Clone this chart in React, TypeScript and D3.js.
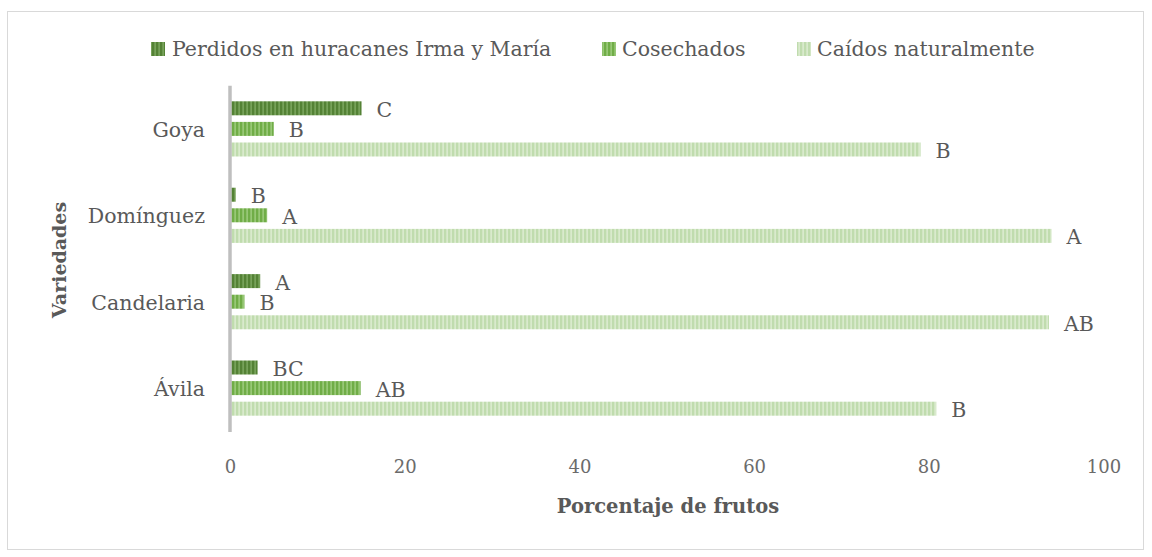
import React from "react";
import * as d3 from "d3";

const categories = ["Goya", "Domínguez", "Candelaria", "Ávila"];
const seriesNames = ["Perdidos en huracanes Irma y María", "Cosechados", "Caídos naturalmente"];
const perdidos = [15.0, 0.6, 3.4, 3.1];
const cosechados = [4.95, 4.2, 1.6, 14.9];
const caidos = [79.0, 94.0, 93.7, 80.8];
const perdidosLabels = ["C", "B", "A", "BC"];
const cosechadosLabels = ["B", "A", "B", "AB"];
const caidosLabels = ["B", "A", "AB", "B"];
const xTicks = [0, 20, 40, 60, 80, 100];

const W = 1152;
const H = 557;
const FONT = "'DejaVu Serif', serif";
const TXT = "#595959";

const seriesValues = [perdidos, cosechados, caidos];
const seriesLabels = [perdidosLabels, cosechadosLabels, caidosLabels];
const patterns = [
  { id: "p0", base: "#548235", stripe: "#86b06a" },
  { id: "p1", base: "#70ad47", stripe: "#a9d48c" },
  { id: "p2", base: "#c0dcae", stripe: "#e4f1db" },
];

export default function App() {
  const x = d3.scaleLinear().domain([0, 100]).range([230.5, 1104]);
  const y = d3.scaleBand<string>().domain(categories).range([85.7, 431.3]).paddingInner(0.285).paddingOuter(0.1425);
  const sub = d3.scaleBand<number>().domain([0, 1, 2]).range([0, y.bandwidth()]).paddingInner(0.32).paddingOuter(0.16);

  const legendItems = [
    { sx: 151, tx: 172 },
    { sx: 602, tx: 622 },
    { sx: 797, tx: 817 },
  ];

  return (
    <svg width={W} height={H} style={{ display: "block", position: "absolute", left: 0, top: 0 }} fontFamily={FONT}>
      <defs>
        {patterns.map((p) => (
          <pattern key={p.id} id={p.id} width={4} height={4} patternUnits="userSpaceOnUse">
            <rect width={4} height={4} fill={p.base} />
            <rect x={2.5} width={1.2} height={4} fill={p.stripe} />
          </pattern>
        ))}
      </defs>
      <rect x={0} y={0} width={W} height={H} fill="#ffffff" />
      <rect x={7.5} y={11.5} width={1136} height={538} fill="#ffffff" stroke="#d9d9d9" strokeWidth={1} />

      {/* legend */}
      {seriesNames.map((n, i) => (
        <g key={n}>
          <rect x={legendItems[i].sx} y={42} width={14} height={14} fill={`url(#${patterns[i].id})`} />
          <text x={legendItems[i].tx} y={56} fontSize={20.5} fill={TXT}>{n}</text>
        </g>
      ))}

      {/* bars */}
      {categories.map((c, ci) => (
        <g key={c} transform={`translate(0,${y(c)})`}>
          {seriesValues.map((vals, si) => {
            const by = sub(si) as number;
            const bh = sub.bandwidth();
            const v = vals[ci];
            return (
              <g key={si}>
                <rect x={x(0)} y={by} width={x(v) - x(0)} height={bh} fill={`url(#${patterns[si].id})`} />
                <text x={x(v) + 15} y={by + bh / 2 + 8.5} fontSize={20.5} fill={TXT}>
                  {seriesLabels[si][ci]}
                </text>
              </g>
            );
          })}
          <text x={205} y={y.bandwidth() / 2 + 8} fontSize={20.5} fill={TXT} textAnchor="end">{c}</text>
        </g>
      ))}

      {/* axis line */}
      <line x1={230} x2={230} y1={85.7} y2={432} stroke="#bfbfbf" strokeWidth={3.5} />

      {/* x ticks */}
      {xTicks.map((t) => (
        <text key={t} x={x(t)} y={473} fontSize={18} fill="#6b6b6b" textAnchor="middle">{t}</text>
      ))}

      <text x={668} y={513} fontSize={19.5} fontWeight="bold" fill={TXT} textAnchor="middle">Porcentaje de frutos</text>
      <text transform={`translate(66,260) rotate(-90)`} fontSize={19} fontWeight="bold" fill={TXT} textAnchor="middle">Variedades</text>
    </svg>
  );
}
